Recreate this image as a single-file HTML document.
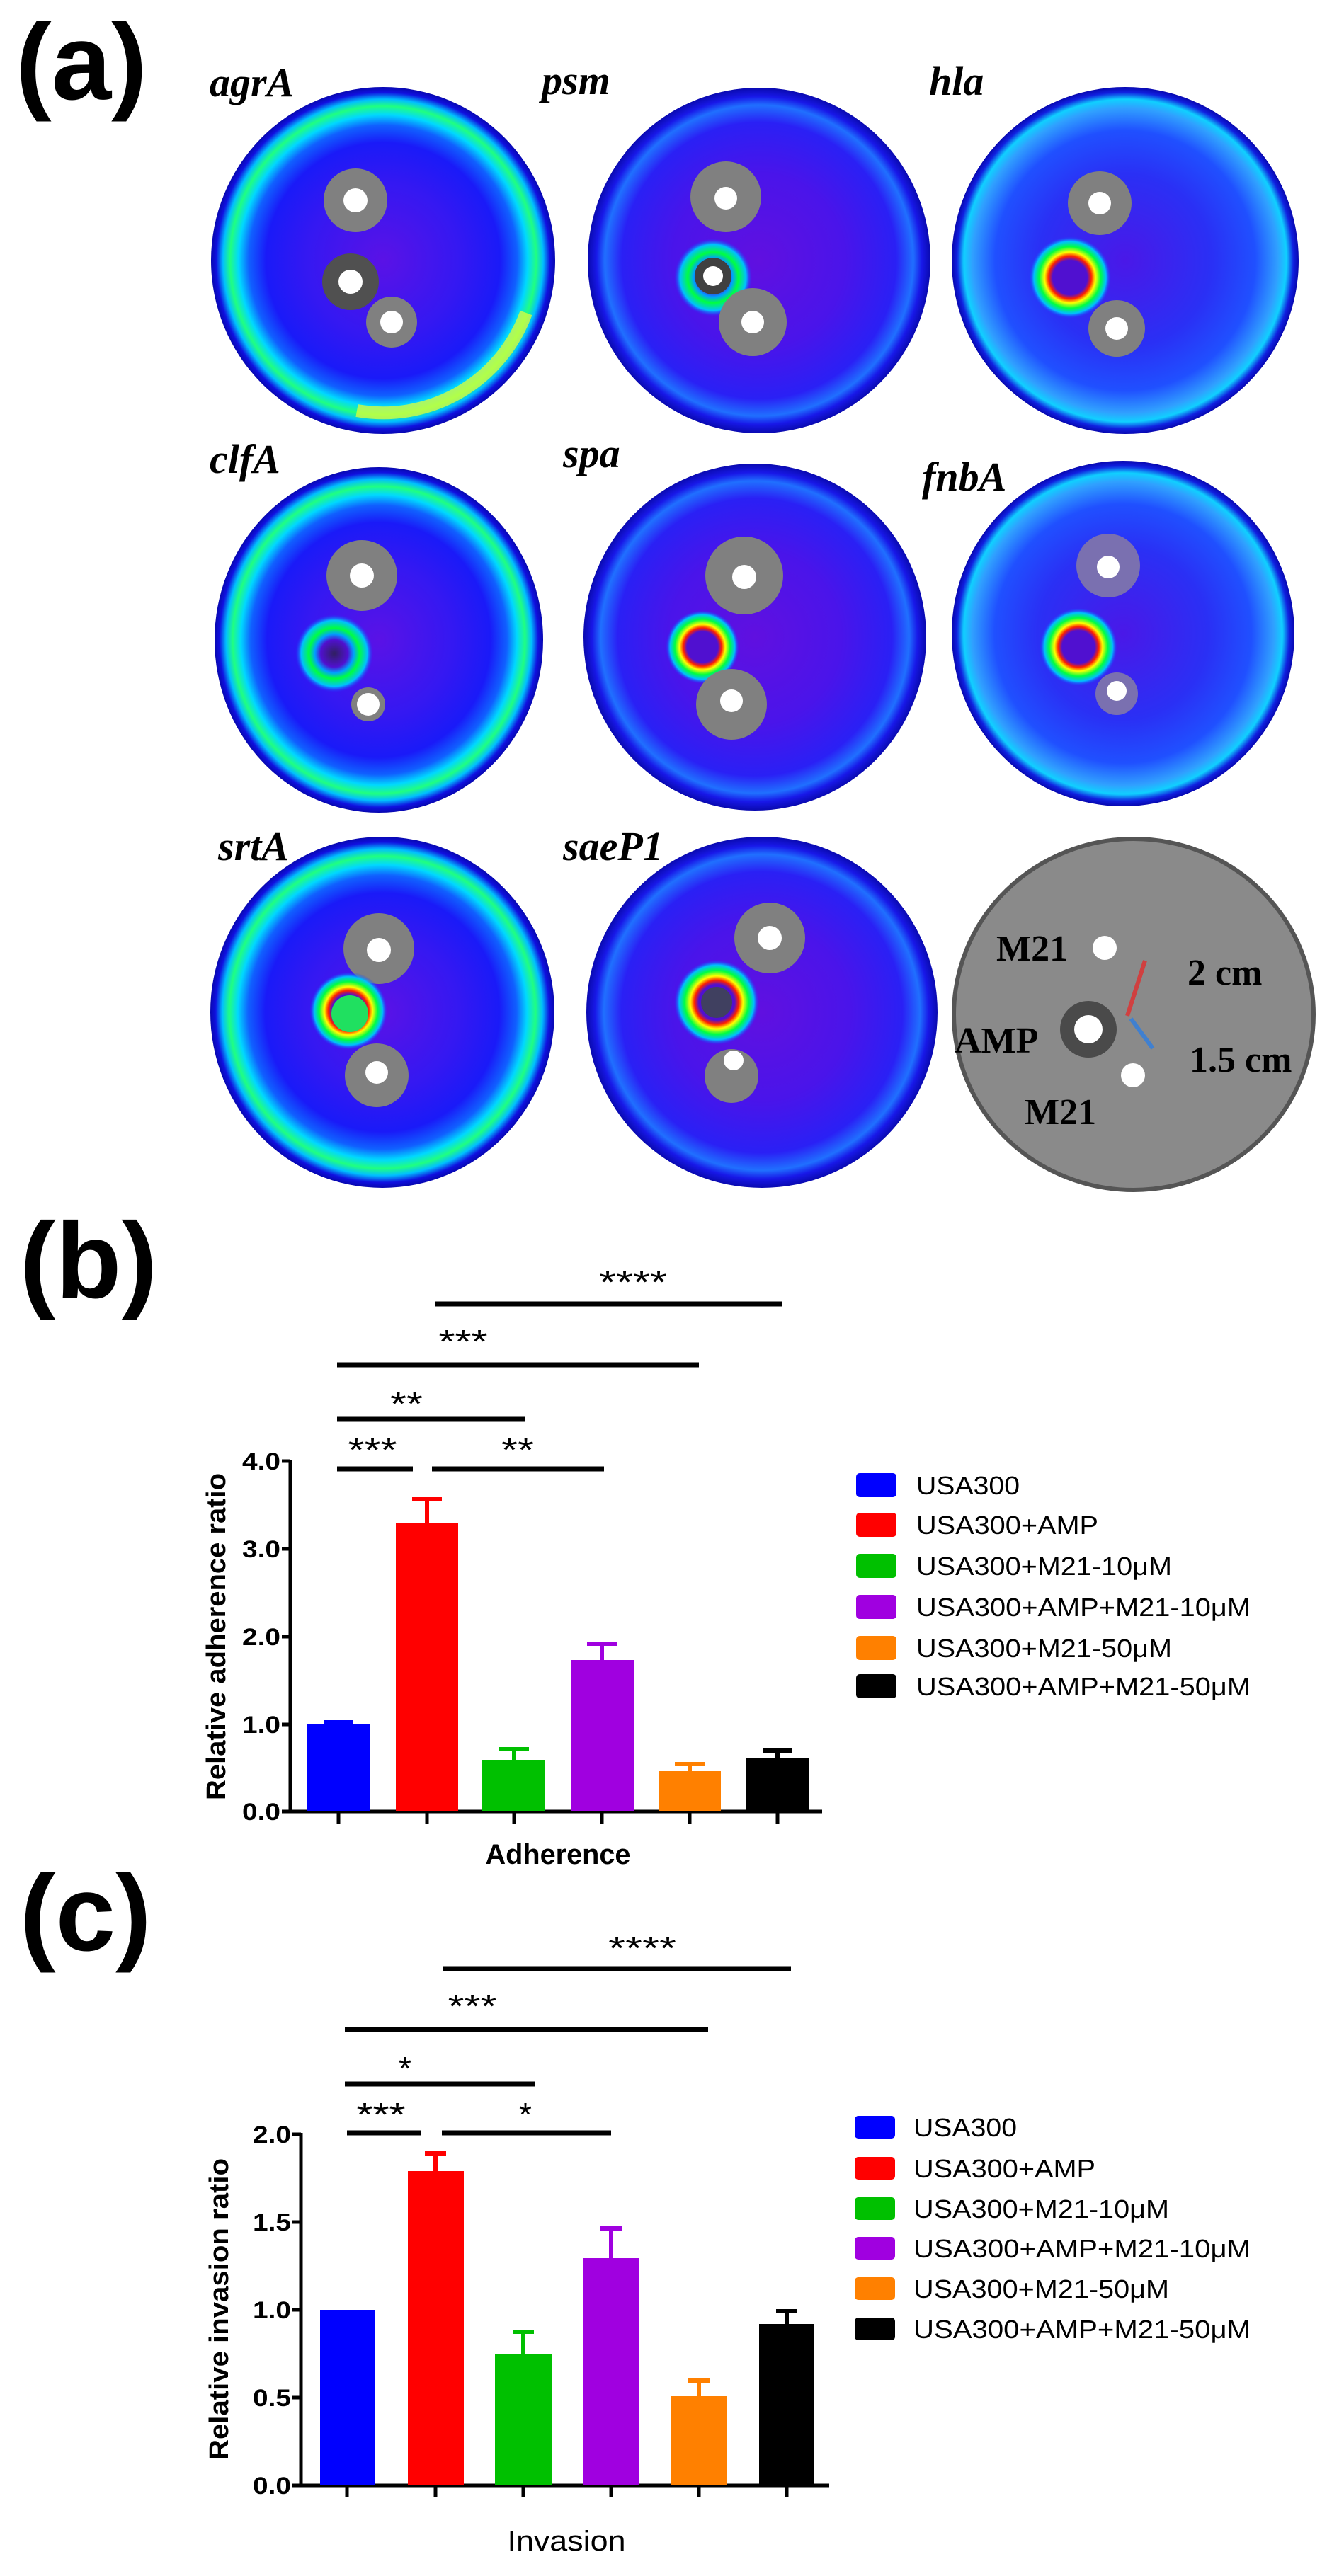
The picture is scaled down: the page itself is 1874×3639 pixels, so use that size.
<!DOCTYPE html>
<html><head><meta charset="utf-8"><style>html,body{margin:0;padding:0;background:#fff}svg{display:block}</style></head>
<body>
<svg width="1874" height="3639" viewBox="0 0 1874 3639" xmlns="http://www.w3.org/2000/svg">
<defs>
<radialGradient id="gA"><stop offset="0" stop-color="#5a12e6"/><stop offset="0.45" stop-color="#3418f2"/><stop offset="0.68" stop-color="#1a1af8"/><stop offset="0.78" stop-color="#1060ff"/><stop offset="0.84" stop-color="#00d8ff"/><stop offset="0.89" stop-color="#20ff80"/><stop offset="0.93" stop-color="#00c0ff"/><stop offset="0.97" stop-color="#1010e0"/><stop offset="1" stop-color="#0808b0"/></radialGradient>
<radialGradient id="gB"><stop offset="0" stop-color="#6010e0"/><stop offset="0.5" stop-color="#4a14ea"/><stop offset="0.8" stop-color="#2a20f5"/><stop offset="0.9" stop-color="#2070ff"/><stop offset="0.95" stop-color="#1818e8"/><stop offset="1" stop-color="#0a0ab0"/></radialGradient>
<radialGradient id="gC"><stop offset="0" stop-color="#4a18e8"/><stop offset="0.5" stop-color="#2a30f5"/><stop offset="0.75" stop-color="#2050ff"/><stop offset="0.88" stop-color="#30a0ff"/><stop offset="0.93" stop-color="#10d0ff"/><stop offset="0.97" stop-color="#1020e0"/><stop offset="1" stop-color="#0808b0"/></radialGradient>
<radialGradient id="ring"><stop offset="0" stop-color="#5010d0"/><stop offset="0.42" stop-color="#5010d0"/><stop offset="0.52" stop-color="#ff2000"/><stop offset="0.62" stop-color="#ffff00"/><stop offset="0.75" stop-color="#00ff40"/><stop offset="0.88" stop-color="#00c0ff"/><stop offset="1" stop-color="#2030ff" stop-opacity="0"/></radialGradient>
<radialGradient id="ringG"><stop offset="0" stop-color="#302060"/><stop offset="0.35" stop-color="#5010d0"/><stop offset="0.5" stop-color="#00a0ff"/><stop offset="0.65" stop-color="#00ff40"/><stop offset="0.85" stop-color="#00c0ff"/><stop offset="1" stop-color="#2030ff" stop-opacity="0"/></radialGradient>
</defs>

<g font-family="Liberation Sans, sans-serif" font-weight="bold" font-size="152" fill="#000">
<text x="22" y="140">(a)</text>
<text x="28" y="1833">(b)</text>
<text x="28" y="2755">(c)</text>
</g>

<g font-family="Liberation Serif, serif" font-weight="bold" font-style="italic" font-size="58" fill="#000">
<text x="296" y="136">agrA</text>
<text x="765" y="133">psm</text>
<text x="1312" y="134">hla</text>
<text x="296" y="668">clfA</text>
<text x="795" y="660">spa</text>
<text x="1302" y="693">fnbA</text>
<text x="308" y="1215">srtA</text>
<text x="795" y="1215">saeP1</text>
</g>

<!-- Row 1 -->
<ellipse cx="541" cy="368" rx="243" ry="245" fill="url(#gA)"/>
<path d="M743 442 A215 215 0 0 1 504 580" fill="none" stroke="#f0ff30" stroke-width="18" opacity="0.7"/>
<circle cx="502" cy="283" r="45" fill="#808080"/><circle cx="502" cy="283" r="17" fill="#fff"/>
<circle cx="495" cy="398" r="40" fill="#505050"/><circle cx="495" cy="398" r="17" fill="#fff"/>
<circle cx="553" cy="455" r="36" fill="#808080"/><circle cx="553" cy="455" r="16" fill="#fff"/>

<ellipse cx="1072" cy="368" rx="242" ry="244" fill="url(#gB)"/>
<circle cx="1007" cy="392" r="55" fill="url(#ringG)"/>
<circle cx="1025" cy="278" r="50" fill="#808080"/><circle cx="1025" cy="280" r="16" fill="#fff"/>
<circle cx="1007" cy="390" r="26" fill="#404040"/><circle cx="1007" cy="390" r="14" fill="#fff"/>
<circle cx="1063" cy="455" r="48" fill="#808080"/><circle cx="1063" cy="455" r="16" fill="#fff"/>

<ellipse cx="1589" cy="368" rx="245" ry="245" fill="url(#gC)"/>
<circle cx="1553" cy="287" r="45" fill="#808080"/><circle cx="1553" cy="287" r="16" fill="#fff"/>
<circle cx="1511" cy="392" r="58" fill="url(#ring)"/>
<circle cx="1577" cy="464" r="40" fill="#808080"/><circle cx="1577" cy="464" r="16" fill="#fff"/>

<!-- Row 2 -->
<ellipse cx="535" cy="904" rx="232" ry="244" fill="url(#gA)"/>
<circle cx="511" cy="813" r="50" fill="#808080"/><circle cx="511" cy="813" r="17" fill="#fff"/>
<circle cx="472" cy="923" r="55" fill="url(#ringG)"/>
<circle cx="520" cy="995" r="24" fill="#808080"/><circle cx="520" cy="995" r="16" fill="#fff"/>

<ellipse cx="1066" cy="900" rx="242" ry="245" fill="url(#gB)"/>
<circle cx="1051" cy="813" r="55" fill="#808080"/><circle cx="1051" cy="815" r="17" fill="#fff"/>
<circle cx="992" cy="914" r="52" fill="url(#ring)"/>
<circle cx="1033" cy="995" r="50" fill="#808080"/><circle cx="1033" cy="990" r="16" fill="#fff"/>

<ellipse cx="1586" cy="895" rx="242" ry="244" fill="url(#gC)"/>
<circle cx="1565" cy="799" r="45" fill="#7a70b0"/><circle cx="1565" cy="801" r="16" fill="#fff"/>
<circle cx="1523" cy="914" r="55" fill="url(#ring)"/>
<circle cx="1577" cy="980" r="30" fill="#7a70b0"/><circle cx="1577" cy="976" r="14" fill="#fff"/>

<!-- Row 3 -->
<ellipse cx="540" cy="1430" rx="243" ry="248" fill="url(#gA)"/>
<circle cx="535" cy="1340" r="50" fill="#808080"/><circle cx="535" cy="1342" r="17" fill="#fff"/>
<circle cx="492" cy="1428" r="55" fill="url(#ring)"/>
<circle cx="494" cy="1432" r="26" fill="#20e060"/>
<circle cx="532" cy="1519" r="45" fill="#808080"/><circle cx="532" cy="1515" r="16" fill="#fff"/>

<ellipse cx="1076" cy="1430" rx="248" ry="248" fill="url(#gB)"/>
<circle cx="1087" cy="1325" r="50" fill="#808080"/><circle cx="1087" cy="1325" r="17" fill="#fff"/>
<circle cx="1012" cy="1416" r="60" fill="url(#ring)"/>
<circle cx="1012" cy="1416" r="22" fill="#404060"/>
<circle cx="1033" cy="1520" r="38" fill="#808080"/><circle cx="1036" cy="1498" r="14" fill="#fff"/>

<ellipse cx="1601" cy="1433" rx="254" ry="248" fill="#8a8a8a" stroke="#555" stroke-width="6"/>
<circle cx="1560" cy="1339" r="17" fill="#fff"/>
<circle cx="1537" cy="1454" r="40" fill="#4a4a4a"/><circle cx="1537" cy="1454" r="20" fill="#fff"/>
<circle cx="1600" cy="1519" r="17" fill="#fff"/>
<line x1="1617" y1="1357" x2="1592" y2="1435" stroke="#d04040" stroke-width="6"/>
<line x1="1597" y1="1439" x2="1628" y2="1481" stroke="#4080d0" stroke-width="6"/>
<g font-family="Liberation Serif, serif" font-weight="bold" font-size="52" fill="#000">
<text x="1407" y="1357">M21</text>
<text x="1677" y="1391">2 cm</text>
<text x="1348" y="1487">AMP</text>
<text x="1680" y="1514">1.5 cm</text>
<text x="1447" y="1588">M21</text>
</g>

<!-- Chart b -->
<g stroke="#000" stroke-width="5" fill="none">
<line x1="410" y1="2062" x2="410" y2="2559"/>
<line x1="408" y1="2559" x2="1161" y2="2559"/>
<line x1="398" y1="2064" x2="410" y2="2064"/><line x1="398" y1="2188" x2="410" y2="2188"/><line x1="398" y1="2312" x2="410" y2="2312"/><line x1="398" y1="2436" x2="410" y2="2436"/><line x1="398" y1="2559" x2="410" y2="2559"/>
<line x1="478" y1="2559" x2="478" y2="2576"/><line x1="603" y1="2559" x2="603" y2="2576"/><line x1="726" y1="2559" x2="726" y2="2576"/><line x1="850" y1="2559" x2="850" y2="2576"/><line x1="974" y1="2559" x2="974" y2="2576"/><line x1="1098" y1="2559" x2="1098" y2="2576"/>
</g>
<g font-family="Liberation Sans, sans-serif" font-weight="bold" font-size="34" fill="#000" text-anchor="end">
<text x="396" y="2076" textLength="54" lengthAdjust="spacingAndGlyphs">4.0</text>
<text x="396" y="2200" textLength="54" lengthAdjust="spacingAndGlyphs">3.0</text>
<text x="396" y="2324" textLength="54" lengthAdjust="spacingAndGlyphs">2.0</text>
<text x="396" y="2448" textLength="54" lengthAdjust="spacingAndGlyphs">1.0</text>
<text x="396" y="2571" textLength="54" lengthAdjust="spacingAndGlyphs">0.0</text>
</g>
<text transform="translate(318 2312) rotate(-90)" text-anchor="middle" font-family="Liberation Sans, sans-serif" font-weight="bold" font-size="38" textLength="462" lengthAdjust="spacingAndGlyphs">Relative adherence ratio</text>
<text x="788" y="2633" text-anchor="middle" font-family="Liberation Sans, sans-serif" font-weight="bold" font-size="40" textLength="205" lengthAdjust="spacingAndGlyphs">Adherence</text>
<g>
<rect x="434" y="2435" width="89" height="124" fill="#0000ff"/>
<rect x="559" y="2151" width="88" height="408" fill="#ff0000"/>
<rect x="681" y="2486" width="89" height="73" fill="#00c000"/>
<rect x="806" y="2345" width="89" height="214" fill="#a000e0"/>
<rect x="930" y="2502" width="88" height="57" fill="#ff8000"/>
<rect x="1054" y="2484" width="88" height="75" fill="#000"/>
</g>
<g stroke-width="6">
<line x1="478" y1="2436" x2="478" y2="2432" stroke="#0000ff"/><line x1="458" y1="2433" x2="498" y2="2433" stroke="#0000ff"/>
<line x1="603" y1="2151" x2="603" y2="2118" stroke="#ff0000"/><line x1="582" y1="2118" x2="624" y2="2118" stroke="#ff0000"/>
<line x1="726" y1="2486" x2="726" y2="2471" stroke="#00c000"/><line x1="705" y1="2471" x2="747" y2="2471" stroke="#00c000"/>
<line x1="850" y1="2345" x2="850" y2="2322" stroke="#a000e0"/><line x1="829" y1="2322" x2="871" y2="2322" stroke="#a000e0"/>
<line x1="974" y1="2502" x2="974" y2="2492" stroke="#ff8000"/><line x1="953" y1="2492" x2="995" y2="2492" stroke="#ff8000"/>
<line x1="1098" y1="2484" x2="1098" y2="2473" stroke="#000"/><line x1="1077" y1="2473" x2="1119" y2="2473" stroke="#000"/>
</g>
<g stroke="#000" stroke-width="7">
<line x1="476" y1="2075" x2="583" y2="2075"/><line x1="610" y1="2075" x2="853" y2="2075"/>
<line x1="476" y1="2005" x2="742" y2="2005"/>
<line x1="476" y1="1928" x2="987" y2="1928"/>
<line x1="614" y1="1842" x2="1104" y2="1842"/>
</g>
<g font-family="Liberation Sans, sans-serif" font-size="46" fill="#000" text-anchor="middle">
<text x="526" y="2064" textLength="69" lengthAdjust="spacingAndGlyphs">***</text>
<text x="731" y="2064" textLength="46" lengthAdjust="spacingAndGlyphs">**</text>
<text x="574" y="1999" textLength="46" lengthAdjust="spacingAndGlyphs">**</text>
<text x="654" y="1911" textLength="69" lengthAdjust="spacingAndGlyphs">***</text>
<text x="894" y="1827" textLength="96" lengthAdjust="spacingAndGlyphs">****</text>
</g>
<g font-family="Liberation Sans, sans-serif" font-size="36" fill="#000">
<rect x="1209" y="2081" width="57" height="34" rx="5" fill="#0000ff"/><text x="1294" y="2111" textLength="146" lengthAdjust="spacingAndGlyphs">USA300</text>
<rect x="1209" y="2137" width="57" height="34" rx="5" fill="#ff0000"/><text x="1294" y="2167" textLength="257" lengthAdjust="spacingAndGlyphs">USA300+AMP</text>
<rect x="1209" y="2195" width="57" height="34" rx="5" fill="#00c000"/><text x="1294" y="2225" textLength="361" lengthAdjust="spacingAndGlyphs">USA300+M21-10μM</text>
<rect x="1209" y="2253" width="57" height="34" rx="5" fill="#a000e0"/><text x="1294" y="2283" textLength="472" lengthAdjust="spacingAndGlyphs">USA300+AMP+M21-10μM</text>
<rect x="1209" y="2311" width="57" height="34" rx="5" fill="#ff8000"/><text x="1294" y="2341" textLength="361" lengthAdjust="spacingAndGlyphs">USA300+M21-50μM</text>
<rect x="1209" y="2365" width="57" height="34" rx="5" fill="#000"/><text x="1294" y="2395" textLength="472" lengthAdjust="spacingAndGlyphs">USA300+AMP+M21-50μM</text>
</g>

<!-- Chart c -->
<g stroke="#000" stroke-width="5" fill="none">
<line x1="425" y1="3013" x2="425" y2="3511"/>
<line x1="423" y1="3511" x2="1171" y2="3511"/>
<line x1="413" y1="3015" x2="425" y2="3015"/><line x1="413" y1="3139" x2="425" y2="3139"/><line x1="413" y1="3263" x2="425" y2="3263"/><line x1="413" y1="3387" x2="425" y2="3387"/><line x1="413" y1="3511" x2="425" y2="3511"/>
<line x1="490" y1="3511" x2="490" y2="3527"/><line x1="615" y1="3511" x2="615" y2="3527"/><line x1="739" y1="3511" x2="739" y2="3527"/><line x1="863" y1="3511" x2="863" y2="3527"/><line x1="987" y1="3511" x2="987" y2="3527"/><line x1="1111" y1="3511" x2="1111" y2="3527"/>
</g>
<g font-family="Liberation Sans, sans-serif" font-weight="bold" font-size="34" fill="#000" text-anchor="end">
<text x="411" y="3027" textLength="54" lengthAdjust="spacingAndGlyphs">2.0</text>
<text x="411" y="3151" textLength="54" lengthAdjust="spacingAndGlyphs">1.5</text>
<text x="411" y="3275" textLength="54" lengthAdjust="spacingAndGlyphs">1.0</text>
<text x="411" y="3399" textLength="54" lengthAdjust="spacingAndGlyphs">0.5</text>
<text x="411" y="3523" textLength="54" lengthAdjust="spacingAndGlyphs">0.0</text>
</g>
<text transform="translate(322 3262) rotate(-90)" text-anchor="middle" font-family="Liberation Sans, sans-serif" font-weight="bold" font-size="38" textLength="426" lengthAdjust="spacingAndGlyphs">Relative invasion ratio</text>
<text x="800" y="3603" text-anchor="middle" font-family="Liberation Sans, sans-serif" font-size="40" textLength="167" lengthAdjust="spacingAndGlyphs">Invasion</text>
<g>
<rect x="452" y="3263" width="77" height="248" fill="#0000ff"/>
<rect x="576" y="3067" width="79" height="444" fill="#ff0000"/>
<rect x="699" y="3326" width="80" height="185" fill="#00c000"/>
<rect x="824" y="3190" width="78" height="321" fill="#a000e0"/>
<rect x="947" y="3385" width="80" height="126" fill="#ff8000"/>
<rect x="1072" y="3283" width="78" height="228" fill="#000"/>
</g>
<g stroke-width="6">
<line x1="615" y1="3067" x2="615" y2="3042" stroke="#ff0000"/><line x1="600" y1="3042" x2="630" y2="3042" stroke="#ff0000"/>
<line x1="739" y1="3326" x2="739" y2="3294" stroke="#00c000"/><line x1="724" y1="3294" x2="754" y2="3294" stroke="#00c000"/>
<line x1="863" y1="3190" x2="863" y2="3148" stroke="#a000e0"/><line x1="848" y1="3148" x2="878" y2="3148" stroke="#a000e0"/>
<line x1="987" y1="3385" x2="987" y2="3363" stroke="#ff8000"/><line x1="972" y1="3363" x2="1002" y2="3363" stroke="#ff8000"/>
<line x1="1111" y1="3283" x2="1111" y2="3265" stroke="#000"/><line x1="1096" y1="3265" x2="1126" y2="3265" stroke="#000"/>
</g>
<g stroke="#000" stroke-width="7">
<line x1="490" y1="3013" x2="595" y2="3013"/><line x1="624" y1="3013" x2="863" y2="3013"/>
<line x1="487" y1="2944" x2="755" y2="2944"/>
<line x1="487" y1="2867" x2="1000" y2="2867"/>
<line x1="626" y1="2781" x2="1117" y2="2781"/>
</g>
<g font-family="Liberation Sans, sans-serif" font-size="46" fill="#000" text-anchor="middle">
<text x="538" y="3003" textLength="69" lengthAdjust="spacingAndGlyphs">***</text>
<text x="742" y="3003">*</text>
<text x="572" y="2938">*</text>
<text x="667" y="2850" textLength="69" lengthAdjust="spacingAndGlyphs">***</text>
<text x="907" y="2768" textLength="96" lengthAdjust="spacingAndGlyphs">****</text>
</g>
<g font-family="Liberation Sans, sans-serif" font-size="36" fill="#000">
<rect x="1207" y="2989" width="57" height="32" rx="5" fill="#0000ff"/><text x="1290" y="3018" textLength="146" lengthAdjust="spacingAndGlyphs">USA300</text>
<rect x="1207" y="3047" width="57" height="32" rx="5" fill="#ff0000"/><text x="1290" y="3076" textLength="257" lengthAdjust="spacingAndGlyphs">USA300+AMP</text>
<rect x="1207" y="3104" width="57" height="32" rx="5" fill="#00c000"/><text x="1290" y="3133" textLength="361" lengthAdjust="spacingAndGlyphs">USA300+M21-10μM</text>
<rect x="1207" y="3160" width="57" height="32" rx="5" fill="#a000e0"/><text x="1290" y="3189" textLength="476" lengthAdjust="spacingAndGlyphs">USA300+AMP+M21-10μM</text>
<rect x="1207" y="3217" width="57" height="32" rx="5" fill="#ff8000"/><text x="1290" y="3246" textLength="361" lengthAdjust="spacingAndGlyphs">USA300+M21-50μM</text>
<rect x="1207" y="3274" width="57" height="32" rx="5" fill="#000"/><text x="1290" y="3303" textLength="476" lengthAdjust="spacingAndGlyphs">USA300+AMP+M21-50μM</text>
</g>
</svg>
</body></html>
